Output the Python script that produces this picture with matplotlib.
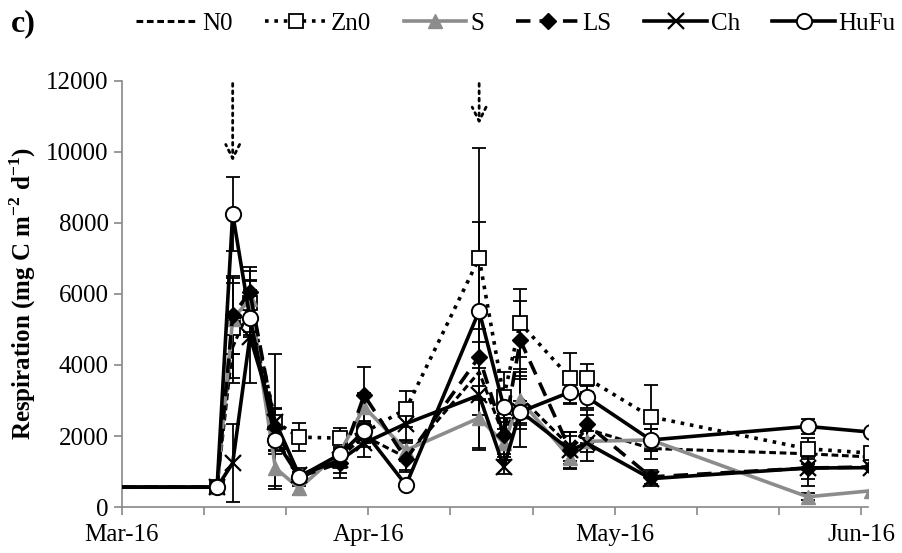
import matplotlib
matplotlib.use("Agg")
from matplotlib import pyplot as plt

plt.rcParams['font.family'] = ['Liberation Serif', 'DejaVu Serif']
plt.rcParams['mathtext.fontset'] = 'custom'
plt.rcParams['mathtext.rm'] = 'Liberation Serif'
plt.rcParams['mathtext.bf'] = 'Liberation Serif:bold'

# sampling days, counted from 1 March 2016 (first point lies before the axis start)
days = [-3, 11.6, 13.5, 15.6, 18.7, 21.6, 26.6, 29.5, 34.6, 43.5, 46.5, 48.5, 54.6, 56.6, 64.4, 83.5, 91.2]

# respiration values (mg C m-2 d-1)
n0 = [560, 560, 4500, 5600, 2000, 800, 1400, 2000, 1400, 3800, 2000, 3100, 1700, 2200, 1650, 1500, 1410]
zn0 = [560, 560, 5040, 5750, 2400, 1970, 1940, 2100, 2760, 7010, 3100, 5180, 3630, 3630, 2540, 1640, 1520]
s = [560, 560, 5300, 5850, 1100, 530, 1550, 2820, 1600, 2510, 1800, 3010, 1380, 1850, 1890, 290, 460]
ls = [560, 560, 5400, 6050, 2250, 850, 1250, 3150, 1350, 4230, 2030, 4700, 1600, 2340, 850, 1100, 1130]
ch = [560, 560, 1240, 4800, 2400, 900, 1320, 1800, 2350, 3150, 1130, 2700, 1600, 1800, 800, 1100, 1110]
hufu = [560, 560, 8250, 5320, 1890, 850, 1490, 2140, 620, 5520, 2820, 2680, 3240, 3100, 1890, 2270, 2110]

# standard errors
n0_err = [0, 60, 1000, 800, 500, 200, 300, 300, 400, 1200, 500, 800, 400, 400, 300, 300, 0]
zn0_err = [0, 80, 1400, 900, 400, 400, 300, 300, 500, 3100, 700, 950, 700, 400, 900, 300, 0]
s_err = [0, 50, 1000, 500, 500, 200, 300, 400, 300, 900, 400, 800, 300, 300, 300, 100, 0]
ls_err = [0, 60, 1100, 700, 500, 150, 300, 800, 300, 1200, 700, 1100, 400, 400, 200, 300, 0]
ch_err = [0, 60, 1100, 1300, 1900, 200, 500, 400, 500, 1500, 200, 1000, 500, 500, 200, 500, 0]
hufu_err = [0, 80, 1050, 400, 300, 150, 300, 200, 100, 2500, 200, 300, 350, 300, 300, 200, 0]

# fertilisation events (arrows)
events = [13.5, 43.5]
event_tips = [9650, 10700]

xticks = [0, 10, 20, 30, 40, 50, 60, 70, 80, 90]
xticklabels = ['Mar-16', '', '', 'Apr-16', '', '', 'May-16', '', '', 'Jun-16']

fig = plt.figure(figsize=(9.02, 5.53), dpi=100)
ax = fig.add_axes([0.135, 0.083, 0.827, 0.771])

series = [
    ('N0', n0, n0_err, dict(color='black', linestyle=(0, (2.2, 1.2)), lw=2.2, marker=None)),
    ('Zn0', zn0, zn0_err, dict(color='black', linestyle=(0, (1, 1.6)), lw=2.6, marker='s', ms=10,
                              mfc='white', mec='black', mew=1.3)),
    ('S', s, s_err, dict(color='#8c8c8c', linestyle='-', lw=2.6, marker='^', ms=10,
                         mfc='#8c8c8c', mec='#8c8c8c')),
    ('LS', ls, ls_err, dict(color='black', linestyle=(0, (4, 2.5)), lw=2.6, marker='D', ms=8,
                            mfc='black', mec='black')),
    ('Ch', ch, ch_err, dict(color='black', linestyle='-', lw=2.6, marker='x', ms=11, mew=1.6)),
    ('HuFu', hufu, hufu_err, dict(color='black', linestyle='-', lw=2.6, marker='o', ms=11,
                                  mfc='white', mec='black', mew=1.4)),
]

for name, vals, err, style in series:
    ax.errorbar(days, vals, yerr=err, fmt='none', ecolor='black', elinewidth=1.3,
                capsize=5, capthick=1.3, zorder=2)
    ax.plot(days, vals, label=name, zorder=3, **style)

# dotted arrows marking the events
for ev, tip in zip(events, event_tips):
    ax.annotate('', xy=(ev, tip), xytext=(ev, 12000),
                arrowprops=dict(arrowstyle='->', linestyle=':', lw=2, color='black',
                                mutation_scale=25))

ax.set_xlim(0, 90.8)
ax.set_ylim(0, 12000)
ax.set_yticks(range(0, 12001, 2000))
ax.set_xticks(xticks)
ax.set_xticklabels(xticklabels)
ax.tick_params(axis='both', direction='out', color='#888888', length=6, width=1.2,
               labelsize=18)
ax.tick_params(axis='x', pad=6)
for side in ['top', 'right']:
    ax.spines[side].set_visible(False)
for side in ['left', 'bottom']:
    ax.spines[side].set_color('#888888')
    ax.spines[side].set_linewidth(1.2)

ax.set_ylabel(r'Respiration (mg C m$^{\mathbf{-2}}$ d$^{\mathbf{-1}}$)', fontsize=18,
              fontweight='bold', labelpad=6)

ax.legend(loc='center', bbox_to_anchor=(0.528, 1.134), ncol=6, frameon=False,
          fontsize=18, handlelength=2.5, columnspacing=1.3, handletextpad=0.15,
          borderaxespad=0, borderpad=0)

fig.text(0.012, 0.958, 'c)', fontsize=23, fontweight='bold', va='center')

fig.savefig('out.png', dpi=100)
